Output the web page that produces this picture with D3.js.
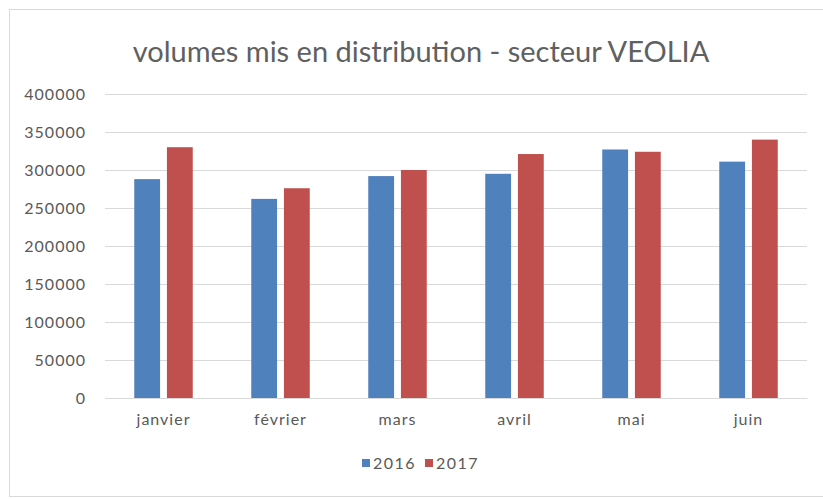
<!DOCTYPE html>
<html>
<head>
<meta charset="utf-8">
<script src="https://cdn.jsdelivr.net/npm/d3@7"></script>
<style>
  body { margin: 0; background: #fff; }
  text { font-family: Lato, "Open Sans", sans-serif; fill: #595959; }
</style>
</head>
<body>
<svg id="chart" width="823" height="499"></svg>
<script>
// data
var months = ["janvier", "février", "mars", "avril", "mai", "juin"];
var series = ["2016", "2017"];
var values2016 = [288000, 262000, 292000, 295000, 327000, 311000];
var values2017 = [330000, 276000, 300000, 321000, 324000, 340000];
var yTicks = [0, 50000, 100000, 150000, 200000, 250000, 300000, 350000, 400000];
var colors = ["#4F81BD", "#C0504D"];

var data = months.map(function(m, i) {
  return { month: m, values: [values2016[i], values2017[i]] };
});

var svg = d3.select("#chart");

// outer frame
svg.append("rect")
  .attr("x", 9.5).attr("y", 9.5)
  .attr("width", 830).attr("height", 487)
  .attr("fill", "#fff")
  .attr("stroke", "#d9d9d9");

var margin = {top: 94, right: 16, bottom: 101, left: 105},
    width = 823 - margin.left - margin.right,
    height = 499 - margin.top - margin.bottom;

var g = svg.append("g")
  .attr("transform", "translate(" + margin.left + "," + margin.top + ")");

var x0 = d3.scaleBand()
  .domain(months)
  .range([0, width])
  .paddingInner(0.5)
  .paddingOuter(0.25);

var x1 = d3.scaleBand()
  .domain(series)
  .range([0, x0.bandwidth()])
  .paddingInner(0.21);

var y = d3.scaleLinear()
  .domain([0, 400000])
  .range([height, 0]);

// gridlines + y labels
var yAxis = g.append("g")
  .call(d3.axisLeft(y).tickValues(yTicks).tickSize(-width).tickPadding(19).tickFormat(d3.format("d")));
yAxis.select(".domain").remove();
yAxis.selectAll(".tick line").attr("stroke", "#d9d9d9");
yAxis.selectAll(".tick text")
  .style("font-size", "16px")
  .style("letter-spacing", "1px")
  .attr("fill", "#595959");

// bars
var groups = g.selectAll(".group")
  .data(data)
  .enter().append("g")
  .attr("class", "group")
  .attr("transform", function(d) { return "translate(" + x0(d.month) + ",0)"; });

groups.selectAll("rect")
  .data(function(d) { return d.values.map(function(v, i) { return {key: series[i], value: v, i: i}; }); })
  .enter().append("rect")
  .attr("x", function(d) { return x1(d.key); })
  .attr("width", x1.bandwidth())
  .attr("y", function(d) { return y(d.value); })
  .attr("height", function(d) { return height - y(d.value); })
  .attr("fill", function(d) { return colors[d.i]; });

// x axis
var xAxis = g.append("g")
  .attr("transform", "translate(0," + height + ")")
  .call(d3.axisBottom(x0).tickSize(0).tickPadding(16));
xAxis.select(".domain").attr("stroke", "#d9d9d9");
xAxis.selectAll(".tick text")
  .style("font-size", "16px")
  .style("letter-spacing", "1px")
  .attr("fill", "#595959");

// title
svg.append("text")
  .attr("x", 421)
  .attr("y", 62)
  .attr("text-anchor", "middle")
  .style("font-size", "29px")
  .style("fill", "#606060")
  .text("volumes mis en distribution - secteur VEOLIA");

// legend
var legend = svg.append("g").attr("transform", "translate(362,469)");
var item = legend.selectAll("g")
  .data(series)
  .enter().append("g")
  .attr("transform", function(d, i) { return "translate(" + (i * 63) + ",0)"; });
item.append("rect")
  .attr("x", 0).attr("y", -10)
  .attr("width", 8).attr("height", 8)
  .attr("fill", function(d, i) { return colors[i]; });
item.append("text")
  .attr("x", 11)
  .attr("y", 0)
  .style("font-size", "16px")
  .style("letter-spacing", "1.5px")
  .text(function(d) { return d; });
</script>
</body>
</html>
